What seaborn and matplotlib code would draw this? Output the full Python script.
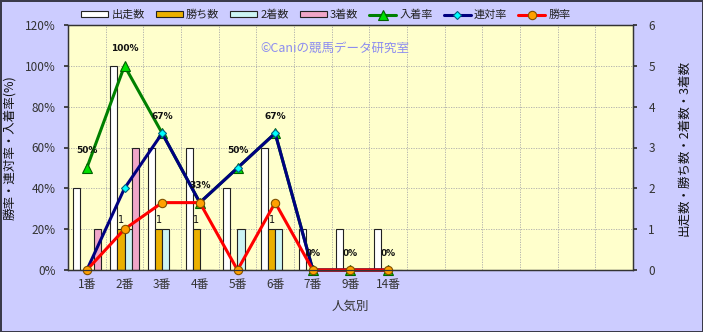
import matplotlib
matplotlib.use("Agg")
import matplotlib.pyplot as plt
import seaborn as sns
import pandas as pd
import numpy as np

categories = ["1番", "2番", "3番", "4番", "5番", "6番", "7番", "9番", "14番"]
starts = [2, 5, 3, 3, 2, 3, 1, 1, 1]
wins = [0, 1, 1, 1, 0, 1, 0, 0, 0]
seconds = [0, 1, 1, 0, 1, 1, 0, 0, 0]
thirds = [1, 3, 0, 0, 0, 0, 0, 0, 0]
place_rate = [50, 100, 67, 33, 50, 67, 0, 0, 0]
quinella_rate = [0, 40, 67, 33, 50, 67, 0, 0, 0]
win_rate = [0, 20, 33, 33, 0, 33, 0, 0, 0]
place_labels = ["50%", "100%", "67%", "33%", "50%", "67%", "0%", "0%", "0%"]
bar_names = ["出走数", "勝ち数", "2着数", "3着数"]
n_slots = 15

sns.set_theme(style="white")
plt.rcParams["font.family"] = ["Noto Sans CJK JP", "DejaVu Sans"]

fig = plt.figure(figsize=(7.03, 3.32), dpi=100)
fig.patch.set_facecolor("#CCCCFF")
fig.patch.set_edgecolor("#3a3a4a")
fig.patch.set_linewidth(2)

L, R, B, T = 68 / 703, 633 / 703, 62 / 332, 307 / 332
ax2 = fig.add_axes([L, B, R - L, T - B])
ax2.set_facecolor("#FFFFCC")
ax = ax2.twinx()
ax.set_zorder(ax2.get_zorder() + 1)
ax.patch.set_visible(False)

# bars on ax2 (counts)
df = pd.DataFrame({
    "cat": categories * 4,
    "kind": sum([[n] * len(categories) for n in bar_names], []),
    "val": starts + wins + seconds + thirds,
})
bar_colors = ["#FFFFFF", "#EBB000", "#CCF4F4", "#F0A6C8"]
sns.barplot(data=df, x="cat", y="val", hue="kind", order=categories,
            hue_order=bar_names, palette=bar_colors, width=0.76,
            edgecolor="#222222", linewidth=0.8, saturation=1, ax=ax2,
            legend=True)
bar_handles, bar_labels = ax2.get_legend_handles_labels()
if ax2.get_legend() is not None:
    ax2.get_legend().remove()

# the count axis is on the right, the percent axis on the left
ax2.yaxis.tick_right()
ax2.yaxis.set_label_position("right")
ax.yaxis.tick_left()
ax.yaxis.set_label_position("left")

ax2.set_ylim(0, 6)
ax2.set_yticks(range(0, 7))
ax.set_ylim(0, 120)
ax.set_yticks(range(0, 121, 20))
ax.set_yticklabels([f"{v}%" for v in range(0, 121, 20)])
ax2.set_xlim(-0.5, n_slots - 0.5)
ax.set_xlim(-0.5, n_slots - 0.5)

# win-count labels
for i, w in enumerate(wins):
    if w > 0:
        ax2.annotate(str(w), (i - 0.095, w), xytext=(0, 3), textcoords="offset points",
                     ha="center", va="bottom", fontsize=7, color="#111111",
                     family=["DejaVu Sans"])

# lines on ax (percent)
xpos = np.arange(len(categories))
lines = [
    ("入着率", place_rate, "#008000", "^", "#00E000", "#006000", 7),
    ("連対率", quinella_rate, "#000080", "D", "#00FFFF", "#006080", 4.5),
    ("勝率", win_rate, "#FF0000", "o", "#FFA000", "#805000", 6),
]
for name, vals, col, mk, mfc, mec, ms in lines:
    sns.lineplot(x=xpos, y=vals, ax=ax, color=col, linewidth=2.2, marker=mk,
                 markersize=ms, markerfacecolor=mfc, markeredgecolor=mec,
                 markeredgewidth=0.8, label=name, sort=False, clip_on=False)
line_handles, line_labels = ax.get_legend_handles_labels()
if ax.get_legend() is not None:
    ax.get_legend().remove()

for i, (v, lab) in enumerate(zip(place_rate, place_labels)):
    ax.annotate(lab, (i, v), xytext=(0, 9), textcoords="offset points",
                ha="center", va="bottom", fontsize=6.5, fontweight="bold",
                color="#111111", family=["DejaVu Sans"])

# grid
ax2.set_xticks(range(len(categories)))
ax2.set_xticklabels(categories)
ax2.set_xticks(np.arange(0.5, n_slots - 0.5, 1), minor=True)
ax2.grid(True, which="minor", axis="x", linestyle=(0, (1.5, 1.5)), color="#AAAAAA", linewidth=0.6)
ax2.grid(True, which="major", axis="y", linestyle=(0, (1.5, 1.5)), color="#AAAAAA", linewidth=0.6)
ax2.grid(False, which="major", axis="x")
ax2.set_axisbelow(True)
ax.grid(False)
ax2.tick_params(axis="x", which="both", length=0, labelsize=8.5, colors="#333333", pad=6)
ax2.tick_params(axis="y", length=3, labelsize=8.5, colors="#333333", direction="out", pad=8)
ax.tick_params(axis="y", length=3, labelsize=8.5, colors="#333333", direction="out", pad=6)
ax2.tick_params(axis="y", which="both", left=False, right=True)
ax.tick_params(axis="y", which="both", left=True, right=False)
for a in (ax, ax2):
    for s in a.spines.values():
        s.set_color("#333333")
        s.set_linewidth(0.9)

ax2.set_xlabel("人気別", fontsize=9, color="#333333", labelpad=6)
ax.set_ylabel("勝率・連対率・入着率(%)", fontsize=9, color="#111111", labelpad=6)
ax2.set_ylabel("出走数・勝ち数・2着数・3着数", fontsize=9, color="#111111", labelpad=16)

fig.text(335 / 703, 1 - 48 / 332, "©Caniの競馬データ研究室", ha="center", va="center",
         fontsize=9, color="#8C8CF0")

leg = fig.legend(bar_handles + line_handles, bar_labels + line_labels, loc="center",
                 bbox_to_anchor=(326 / 703, 1 - 15 / 332), ncol=7, frameon=False,
                 fontsize=8, handlelength=2.4, handleheight=0.5, columnspacing=1.0,
                 handletextpad=0.3, labelcolor="#222222")

fig.savefig("out.png", dpi=100, facecolor=fig.get_facecolor(), edgecolor=fig.get_edgecolor())
